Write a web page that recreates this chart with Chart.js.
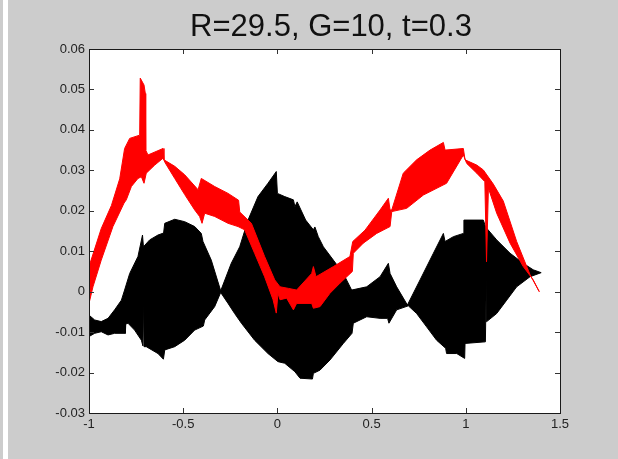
<!DOCTYPE html>
<html>
<head>
<meta charset="utf-8">
<script src="https://cdn.jsdelivr.net/npm/chart.js@4"></script>
<style>
  html, body { margin: 0; padding: 0; background: #cccccc; width: 618px; height: 459px; overflow: hidden; }
  #strip { position: absolute; left: 3px; top: 0; width: 5px; height: 459px; background: #fff; }
  #graph1 { position: absolute; left: 0; top: 0; }
</style>
</head>
<body>
<div id="strip"></div>
<canvas id="graph1" width="618" height="459"></canvas>
<script>
// titre et graduations
const titleText = 'R=29.5, G=10, t=0.3';
const xTickValues = [-1, -0.5, 0, 0.5, 1, 1.5];
const yTickValues = [-0.03, -0.02, -0.01, 0, 0.01, 0.02, 0.03, 0.04, 0.05, 0.06];

// bande rouge : bord haut (gauche -> droite) puis bord bas (droite -> gauche)
const redTop = [
  [-1.000, 0.0062], [-0.935, 0.0156], [-0.881, 0.0213], [-0.837, 0.0279], [-0.811, 0.0354],
  [-0.784, 0.0379], [-0.731, 0.0387], [-0.728, 0.0528], [-0.708, 0.0511], [-0.701, 0.0490],
  [-0.699, 0.0350], [-0.687, 0.0338], [-0.607, 0.0354], [-0.602, 0.0326], [-0.545, 0.0310],
  [-0.492, 0.0289], [-0.421, 0.0252], [-0.404, 0.0280], [-0.333, 0.0260], [-0.262, 0.0243],
  [-0.206, 0.0226], [-0.200, 0.0197], [-0.138, 0.0169], [-0.068, 0.0087], [-0.014, 0.0029],
  [0.014, 0.0012], [0.060, 0.0008], [0.102, 0.0004], [0.182, 0.0045], [0.191, 0.0062],
  [0.205, 0.0037], [0.297, 0.0062], [0.385, 0.0087], [0.400, 0.0124], [0.465, 0.0152],
  [0.545, 0.0202], [0.589, 0.0231], [0.598, 0.0202], [0.607, 0.0202], [0.668, 0.0293],
  [0.739, 0.0326], [0.810, 0.0350], [0.881, 0.0369], [0.890, 0.0350], [0.987, 0.0354],
  [0.996, 0.0326], [1.058, 0.0313], [1.093, 0.0301], [1.146, 0.0266], [1.199, 0.0224],
  [1.270, 0.0124], [1.341, 0.0042], [1.390, 0.0000]
];
const redBottom = [
  [1.390, 0.0000], [1.358, 0.0029], [1.305, 0.0062], [1.235, 0.0120], [1.164, 0.0194],
  [1.120, 0.0256], [1.110, 0.0074], [1.101, 0.0272], [1.058, 0.0293], [1.005, 0.0317],
  [0.987, 0.0338], [0.898, 0.0268], [0.775, 0.0239], [0.686, 0.0206], [0.607, 0.0198],
  [0.598, 0.0161], [0.527, 0.0144], [0.456, 0.0120], [0.403, 0.0095], [0.398, 0.0050],
  [0.332, 0.0021], [0.279, -0.0004], [0.226, -0.0037], [0.191, -0.0041], [0.182, -0.0029],
  [0.102, -0.0029], [0.085, -0.0045], [0.049, -0.0016], [0.014, -0.0020], [0.003, -0.0004],
  [-0.006, -0.0053], [-0.023, -0.0020], [-0.068, 0.0037], [-0.121, 0.0095], [-0.174, 0.0153],
  [-0.209, 0.0161], [-0.262, 0.0169], [-0.333, 0.0186], [-0.386, 0.0194], [-0.400, 0.0169],
  [-0.413, 0.0186], [-0.439, 0.0202], [-0.492, 0.0240], [-0.545, 0.0280], [-0.595, 0.0318],
  [-0.607, 0.0330], [-0.651, 0.0313], [-0.696, 0.0293], [-0.708, 0.0268], [-0.722, 0.0284],
  [-0.740, 0.0280], [-0.775, 0.0260], [-0.802, 0.0227], [-0.814, 0.0219], [-0.873, 0.0161],
  [-0.935, 0.0078], [-0.979, 0.0012], [-1.000, -0.0029]
];

// bande noire
const blackTop = [
  [-1.000, -0.0058], [-0.970, -0.0070], [-0.935, -0.0074], [-0.899, -0.0066], [-0.864, -0.0045],
  [-0.828, -0.0021], [-0.811, 0.0004], [-0.784, 0.0045], [-0.740, 0.0087], [-0.716, 0.0140],
  [-0.711, 0.0111], [-0.678, 0.0128], [-0.634, 0.0140], [-0.604, 0.0145], [-0.598, 0.0169],
  [-0.545, 0.0179], [-0.492, 0.0173], [-0.439, 0.0161], [-0.404, 0.0144], [-0.395, 0.0124],
  [-0.351, 0.0078], [-0.301, 0.0002], [-0.245, 0.0070], [-0.200, 0.0111], [-0.156, 0.0177],
  [-0.103, 0.0235], [-0.050, 0.0268], [-0.006, 0.0297], [0.000, 0.0243], [0.039, 0.0235],
  [0.085, 0.0227], [0.093, 0.0210], [0.105, 0.0222], [0.150, 0.0177], [0.191, 0.0153],
  [0.199, 0.0160], [0.217, 0.0136], [0.244, 0.0111], [0.297, 0.0078], [0.350, 0.0045],
  [0.394, 0.0004], [0.474, 0.0012], [0.545, 0.0037], [0.589, 0.0070], [0.598, 0.0045],
  [0.633, 0.0012], [0.690, -0.0033], [0.757, 0.0029], [0.828, 0.0095], [0.881, 0.0144],
  [0.890, 0.0124], [0.934, 0.0136], [0.987, 0.0144], [0.990, 0.0177], [1.093, 0.0177],
  [1.105, 0.0160], [1.164, 0.0128], [1.235, 0.0095], [1.305, 0.0070], [1.358, 0.0054],
  [1.400, 0.0047]
];
const blackBottom = [
  [1.400, 0.0047], [1.341, 0.0037], [1.270, 0.0012], [1.217, -0.0021], [1.164, -0.0054],
  [1.111, -0.0074], [1.109, 0.0040], [1.104, -0.0124], [0.996, -0.0128], [0.994, -0.0165],
  [0.952, -0.0153], [0.898, -0.0153], [0.893, -0.0140], [0.845, -0.0120], [0.792, -0.0087],
  [0.739, -0.0054], [0.695, -0.0035], [0.633, -0.0045], [0.592, -0.0078], [0.585, -0.0066],
  [0.545, -0.0066], [0.474, -0.0062], [0.403, -0.0078], [0.396, -0.0103], [0.350, -0.0128],
  [0.279, -0.0169], [0.226, -0.0194], [0.191, -0.0202], [0.186, -0.0216], [0.120, -0.0214],
  [0.093, -0.0198], [0.039, -0.0177], [0.003, -0.0173], [-0.050, -0.0153], [-0.121, -0.0120],
  [-0.191, -0.0078], [-0.227, -0.0054], [-0.262, -0.0029], [-0.301, -0.0002], [-0.333, -0.0037],
  [-0.386, -0.0070], [-0.393, -0.0085], [-0.439, -0.0095], [-0.492, -0.0120], [-0.545, -0.0136],
  [-0.598, -0.0144], [-0.605, -0.0167], [-0.634, -0.0153], [-0.696, -0.0136], [-0.708, -0.0136],
  [-0.711, -0.0008], [-0.714, -0.0134], [-0.722, -0.0120], [-0.758, -0.0095], [-0.793, -0.0078],
  [-0.805, -0.0080], [-0.807, -0.0103], [-0.864, -0.0103], [-0.899, -0.0107], [-0.935, -0.0099],
  [-0.970, -0.0103], [-1.000, -0.0111]
];

const toPoints = (top, bottom) => top.concat(bottom).map(p => ({ x: p[0], y: p[1] }));

// fond blanc, cadre, graduations intérieures et titre (façon figure matlab)
const axesBox = {
  id: 'axesBox',
  beforeDraw(chart) {
    const { ctx, chartArea: a } = chart;
    ctx.save();
    ctx.fillStyle = '#ffffff';
    ctx.fillRect(a.left, a.top, a.right - a.left, a.bottom - a.top);
    ctx.restore();
  },
  afterDraw(chart) {
    const { ctx, chartArea: a, scales } = chart;
    ctx.save();
    ctx.strokeStyle = '#333333';
    ctx.lineWidth = 1;
    ctx.beginPath();
    scales.x.ticks.forEach(t => {
      const px = Math.round(scales.x.getPixelForValue(t.value)) + 0.5;
      ctx.moveTo(px, a.bottom); ctx.lineTo(px, a.bottom - 5);
      ctx.moveTo(px, a.top); ctx.lineTo(px, a.top + 5);
    });
    scales.y.ticks.forEach(t => {
      const py = Math.round(scales.y.getPixelForValue(t.value)) + 0.5;
      ctx.moveTo(a.left, py); ctx.lineTo(a.left + 5, py);
      ctx.moveTo(a.right, py); ctx.lineTo(a.right - 5, py);
    });
    ctx.stroke();
    ctx.strokeStyle = '#1a1a1a';
    ctx.strokeRect(Math.round(a.left) + 0.5, Math.round(a.top) + 0.5,
      Math.round(a.right - a.left), Math.round(a.bottom - a.top));

    ctx.fillStyle = '#111111';
    ctx.font = '31px "Liberation Sans", Arial, sans-serif';
    ctx.textAlign = 'center';
    ctx.textBaseline = 'alphabetic';
    ctx.fillText(titleText, 331, 36);
    ctx.restore();
  }
};

const tickFont = { family: '"Liberation Sans", Arial, sans-serif', size: 13 };

new Chart(document.getElementById('graph1'), {
  type: 'scatter',
  data: {
    datasets: [
      {
        label: 'rouge',
        data: toPoints(redTop, redBottom),
        showLine: true,
        fill: 'shape',
        backgroundColor: '#ff0000',
        borderColor: '#ff0000',
        borderWidth: 1,
        pointRadius: 0,
        tension: 0,
      },
      {
        label: 'noir',
        data: toPoints(blackTop, blackBottom),
        showLine: true,
        fill: 'shape',
        backgroundColor: '#000000',
        borderColor: '#000000',
        borderWidth: 1,
        pointRadius: 0,
        tension: 0,
      },
    ],
  },
  options: {
    responsive: false,
    animation: false,
    devicePixelRatio: 1,
    layout: { padding: { top: 49, right: 58, left: 0, bottom: 0 } },
    plugins: {
      legend: { display: false },
      tooltip: { enabled: false },
      title: { display: false },
    },
    scales: {
      x: {
        type: 'linear',
        min: -1,
        max: 1.5,
        grid: { display: false, drawTicks: false },
        border: { display: false },
        afterBuildTicks: s => { s.ticks = xTickValues.map(v => ({ value: v })); },
        afterFit: s => { s.height = 46; },
        ticks: { font: tickFont, color: '#222222', padding: 4, maxRotation: 0, callback: v => String(v) },
      },
      y: {
        type: 'linear',
        min: -0.03,
        max: 0.06,
        grid: { display: false, drawTicks: false },
        border: { display: false },
        afterBuildTicks: s => { s.ticks = yTickValues.map(v => ({ value: v })); },
        afterFit: s => { s.width = 89; },
        ticks: { font: tickFont, color: '#222222', padding: 4, callback: v => String(v) },
      },
    },
  },
  plugins: [axesBox],
});
</script>
</body>
</html>
